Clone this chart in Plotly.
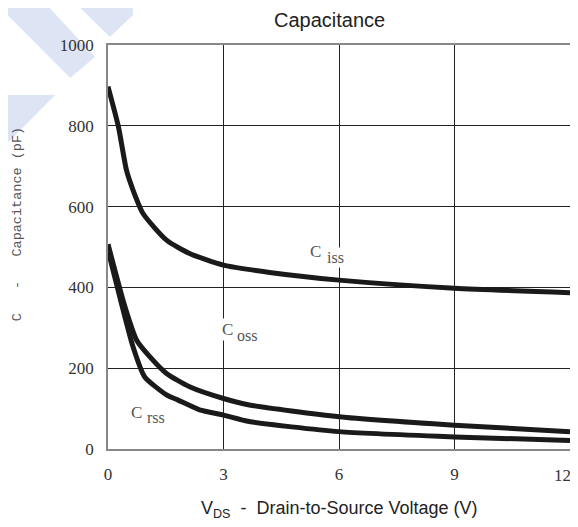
import plotly.graph_objects as go

# values (V in volts, C in pF)
ciss_v = [0, 0.27, 0.48, 0.65, 0.91, 1.52, 2.12, 3.0, 4.2, 6.0, 9.0, 12]
ciss_pf = [897, 798, 690, 641, 583, 517, 484, 455, 437, 418, 398, 387]

coss_v = [0, 0.44, 0.74, 1.09, 1.52, 2.12, 3.0, 3.67, 6.0, 9.0, 12]
coss_pf = [507, 352, 270, 228, 187, 154, 125, 109, 80, 59, 43]

crss_v = [0, 0.35, 0.65, 0.95, 1.52, 1.82, 2.38, 3.0, 3.67, 6.0, 9.0, 12]
crss_pf = [492, 360, 253, 179, 134, 121, 97, 84, 68, 43, 30, 21]

x_ticks = [0, 3, 6, 9, 12]
y_ticks = [0, 200, 400, 600, 800, 1000]

# label positions (data coords): main letter, then subscript part
labels = [
    ("C", 5.4, 490, "iss", 5.92, 475),
    ("C", 3.1, 297, "oss", 3.6, 282),
    ("C", 0.75, 91, "rss", 1.24, 77),
]

LINE = "#1a1a1a"
SERIF = "Liberation Serif, Times New Roman, serif"
NB = "\u00a0"

fig = go.Figure()
for xs, ys in [(ciss_v, ciss_pf), (coss_v, coss_pf), (crss_v, crss_pf)]:
    fig.add_trace(
        go.Scatter(
            x=xs,
            y=ys,
            mode="lines",
            line=dict(color=LINE, width=5, shape="spline", smoothing=0.6),
            showlegend=False,
            hoverinfo="skip",
        )
    )

# the page body adds an 8px margin, so the figure is 8px smaller on each side
fig.update_layout(
    width=570,
    height=519,
    margin=dict(l=100, r=6, t=37, b=78),
    paper_bgcolor="white",
    plot_bgcolor="white",
    font=dict(family=SERIF, size=17, color="#333333"),
)

axis_style = dict(
    showgrid=True,
    gridcolor="#222222",
    gridwidth=1,
    zeroline=False,
    showline=True,
    linecolor="#888888",
    linewidth=1.5,
    mirror=True,
    ticks="",
    tickfont=dict(family=SERIF, size=17, color="#333333"),
)
# last x tick ("12") sits on the right edge; it is written as an annotation so it isn't cut
fig.update_xaxes(range=[0, 12], tickvals=x_ticks[:-1], ticklabelstandoff=9, **axis_style)
fig.update_yaxes(range=[0, 1000], tickvals=y_ticks, ticklabelstandoff=9, **axis_style)

fig.add_annotation(x=0.984, y=-0.065, xref="paper", yref="paper", text=str(x_ticks[-1]),
                   xanchor="center", yanchor="middle", showarrow=False,
                   font=dict(family=SERIF, size=17, color="#333333"))

# curve labels
for main, mx, my, sub, sx, sy in labels:
    fig.add_annotation(x=mx, y=my, text=main, showarrow=False, bgcolor="white",
                       xanchor="center", yanchor="middle",
                       font=dict(family=SERIF, size=17, color="#555555"))
    fig.add_annotation(x=sx, y=sy, text=sub, showarrow=False, bgcolor="white",
                       xanchor="center", yanchor="middle",
                       font=dict(family=SERIF, size=16, color="#555555"))

# title and axis titles
fig.add_annotation(x=0.48, y=1.062, xref="paper", yref="paper", text="Capacitance",
                   xanchor="center", yanchor="middle", showarrow=False,
                   font=dict(family="Liberation Sans", size=20, color="#222222"))
fig.add_annotation(x=0.502, y=-0.15, xref="paper", yref="paper",
                   text="V<sub>DS</sub>  -  Drain-to-Source Voltage (V)",
                   xanchor="center", yanchor="middle", showarrow=False,
                   font=dict(family="Liberation Sans", size=18, color="#222222"))
fig.add_annotation(x=-0.194, y=0.557, xref="paper", yref="paper",
                   text="C" + NB * 3 + "-" + NB * 3 + "Capacitance" + NB + "(pF)",
                   textangle=-90, xanchor="center", yanchor="middle", showarrow=False,
                   font=dict(family="Liberation Mono", size=13.5, color="#555555"))

# light blue watermark stripes in the top-left corner (page pixels -> paper)
def px(x, y):
    return (x - 108) / 464, (449 - y) / 404

stripes = [
    [(0, 0), (42, 0), (95, 57), (70, 78), (0, 8)],
    [(72, 0), (133, 0), (133, 15), (110, 37)],
    [(0, 95), (55, 95), (0, 150)],
]
for poly in stripes:
    pts = [px(x, y) for x, y in poly]
    path = "M " + " L ".join(f"{a:.4f},{b:.4f}" for a, b in pts) + " Z"
    fig.add_shape(type="path", path=path, xref="paper", yref="paper",
                  fillcolor="#dde5f5", line=dict(width=0), layer="below")

fig.write_html("out.html")
